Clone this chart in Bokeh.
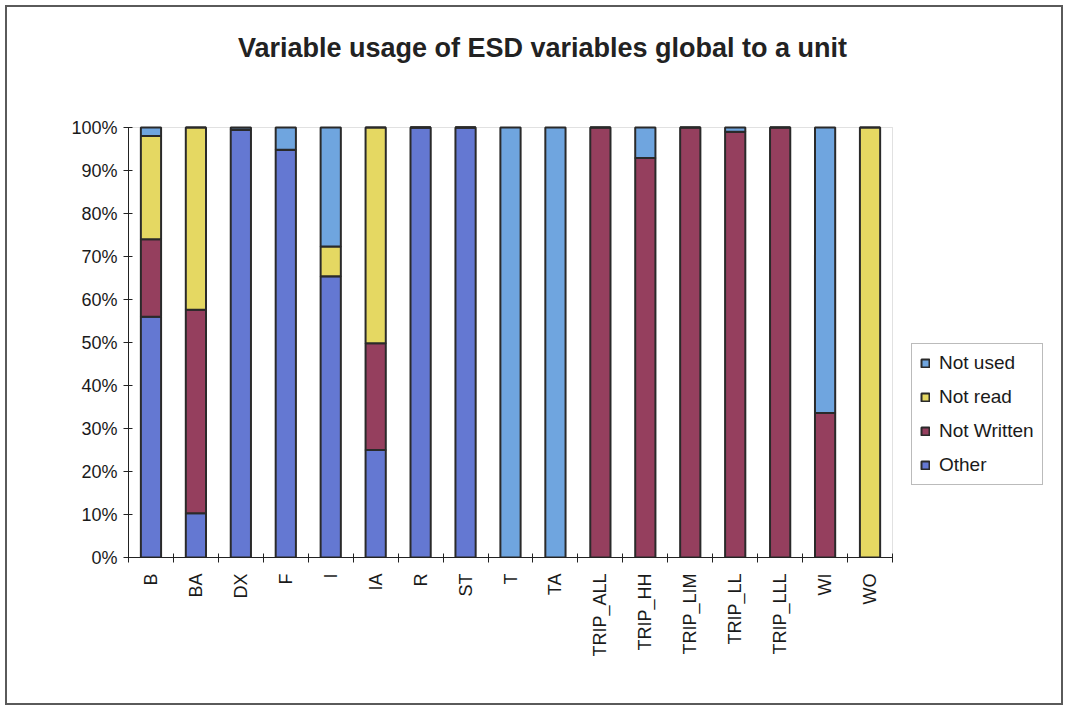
from bokeh.plotting import figure
from bokeh.models import (FixedTicker, NumeralTickFormatter, Legend, LegendItem,
                          Range1d, Label, BoxAnnotation)
from bokeh.embed import file_html
from bokeh.resources import INLINE

# Share of each ESD variable, global to a unit, by usage class (fractions of 1)
categories = ["B", "BA", "DX", "F", "I", "IA", "R", "ST", "T", "TA",
              "TRIP_ALL", "TRIP_HH", "TRIP_LIM", "TRIP_LL", "TRIP_LLL", "WI", "WO"]
other       = [0.56, 0.103, 0.995, 0.948, 0.654, 0.25, 1.0, 1.0, 0.0, 0.0,
               0.0, 0.0, 0.0, 0.0, 0.0, 0.0, 0.0]
not_written = [0.18, 0.473, 0.0, 0.0, 0.0, 0.248, 0.0, 0.0, 0.0, 0.0,
               1.0, 0.929, 1.0, 0.99, 1.0, 0.336, 0.0]
not_read    = [0.24, 0.424, 0.0, 0.0, 0.069, 0.502, 0.0, 0.0, 0.0, 0.0,
               0.0, 0.0, 0.0, 0.0, 0.0, 0.0, 1.0]
not_used    = [0.02, 0.0, 0.005, 0.052, 0.277, 0.0, 0.0, 0.0, 1.0, 1.0,
               0.0, 0.071, 0.0, 0.01, 0.0, 0.664, 0.0]
y_ticks = [0.0, 0.1, 0.2, 0.3, 0.4, 0.5, 0.6, 0.7, 0.8, 0.9, 1.0]

series = ["other", "not_written", "not_read", "not_used"]
series_names = ["Other", "Not Written", "Not read", "Not used"]
colors = ["#6478D2", "#953F5E", "#E5D862", "#6FA5DF"]

n = len(categories)
x = [i + 0.5 for i in range(n)]
data = dict(x=x, other=other, not_written=not_written,
            not_read=not_read, not_used=not_used)

FONT = "Liberation Sans"

# canvas layout (px): the bar area is PLOT_W x PLOT_H; the frame runs on to the
# right and to the top so the legend and the title can sit inside it
W, H = 1058, 700
LEFT, RIGHT, TOP, BOTTOM = 121, 4, 0, 150
PLOT_W, PLOT_H = 764, 430
frame_w = W - LEFT - RIGHT
frame_h = H - TOP - BOTTOM
x_end = n * frame_w / PLOT_W
y_end = frame_h / PLOT_H

p = figure(width=W, height=H, output_backend="svg", toolbar_location=None,
           x_range=Range1d(0, x_end), y_range=Range1d(0, y_end),
           min_border_left=LEFT, min_border_right=RIGHT,
           min_border_top=TOP, min_border_bottom=BOTTOM)
p.styles = {"border": "2px solid #5a5a5a", "margin": "5px"}

p.add_layout(Label(text="Variable usage of ESD variables global to a unit",
                   x=414, y=510, x_units="screen", y_units="screen",
                   text_align="center", text_baseline="middle",
                   text_font=FONT, text_font_size="27px",
                   text_font_style="bold", text_color="#222222"))

# plot-area box behind the bars
p.add_layout(BoxAnnotation(left=0, right=n, bottom=0, top=1, fill_alpha=0,
                           line_color="#9a9a9a", line_width=1, level="underlay"))

renderers = p.vbar_stack(series, x="x", width=0.45, source=data,
                         fill_color=colors, line_color="#2a2a2a", line_width=2)

p.xgrid.visible = False
p.ygrid.visible = False
p.outline_line_color = None
p.background_fill_color = "white"
p.border_fill_color = "white"

# category labels at bar centres, tick marks at category boundaries
p.xaxis.ticker = FixedTicker(ticks=x, minor_ticks=list(range(n + 1)))
p.xaxis.bounds = (0, n)
p.xaxis.major_label_overrides = {xi: c for xi, c in zip(x, categories)}
p.xaxis.major_label_orientation = 1.5708
p.xaxis.major_tick_line_color = None
p.xaxis.minor_tick_line_color = "#222222"
p.xaxis.minor_tick_out = 5
p.xaxis.minor_tick_in = 4
p.xaxis.major_label_standoff = 10

p.yaxis.ticker = FixedTicker(ticks=y_ticks)
p.yaxis.bounds = (0, 1)
p.yaxis.formatter = NumeralTickFormatter(format="0%")
p.yaxis.minor_tick_line_color = None
p.yaxis.major_tick_out = 5
p.yaxis.major_tick_in = 4
p.yaxis.major_label_standoff = 6
p.yaxis.major_tick_line_color = "#222222"

for ax in (p.xaxis, p.yaxis):
    ax.axis_line_color = "#222222"
    ax.axis_line_width = 1
    ax.major_label_text_font = FONT
    ax.major_label_text_font_size = "18px"
    ax.major_label_text_color = "#1a1a1a"

items = [LegendItem(label=series_names[i], renderers=[renderers[i]])
         for i in reversed(range(len(series)))]
legend = Legend(items=items, location=(PLOT_W + 19, 72), orientation="vertical",
                label_text_font=FONT, label_text_font_size="19px",
                label_text_color="#1a1a1a",
                glyph_width=10, glyph_height=10, label_height=22,
                label_standoff=9, spacing=12, padding=8, margin=0,
                border_line_color="#777777", border_line_width=1,
                background_fill_alpha=1.0)
p.add_layout(legend, "center")

open("out.html", "w").write(file_html(p, INLINE))
